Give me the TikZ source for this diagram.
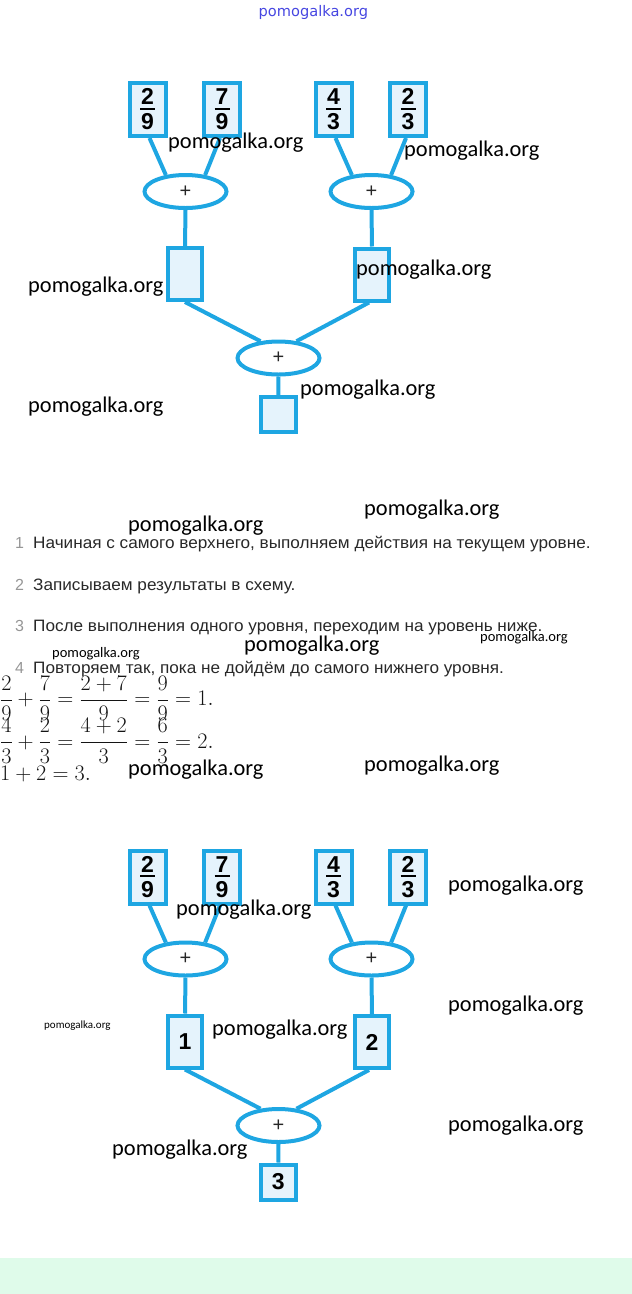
\RequirePackage{fix-cm}
\documentclass[tikz,border=0pt]{standalone}
\usepackage[no-math]{fontspec}
\usepackage{graphicx}
\setmainfont{Liberation Sans}
\newfontfamily\wmfont{Carlito}
\newfontfamily\wmtopfont{DejaVu Sans}
\usetikzlibrary{shapes.geometric}
\definecolor{ln}{RGB}{30,166,226}
\definecolor{bx}{RGB}{229,243,252}
\definecolor{mint}{RGB}{223,251,234}
\definecolor{txt}{RGB}{40,40,40}
\definecolor{num}{RGB}{150,150,150}
\definecolor{mathc}{RGB}{20,20,20}
\definecolor{wmblue}{RGB}{70,70,225}
\pgfdeclarelayer{bg}
\pgfsetlayers{bg,main}
\newcommand{\fracbox}[2]{\vbox{\hbox to 15pt{\hss#1\hss}\kern3pt\hrule height 2pt\kern4pt\hbox to 15pt{\hss#2\hss}}}
\tikzset{
  frbox/.style={draw=ln, line width=4pt, fill=bx, inner sep=0pt, minimum width=36pt, minimum height=53pt, font=\fontsize{23}{23}\selectfont\bfseries},
  resbox/.style={frbox, minimum width=34pt, minimum height=52pt},
  endbox/.style={frbox, minimum width=34.5pt, minimum height=35pt},
  opell/.style={ellipse, draw=ln, line width=4pt, fill=white, inner sep=0pt, minimum width=82pt, minimum height=33pt, font=\fontsize{20}{20}\selectfont, text=black!85},
  link/.style={draw=ln, line width=4pt},
  wmark/.style={font=\wmfont\fontsize{22.4}{22.4}\selectfont, text=black, inner sep=0pt, anchor=west},
  wmsmall/.style={wmark, font=\wmfont\fontsize{14.5}{14.5}\selectfont},
  wmtiny/.style={wmark, font=\wmfont\fontsize{11}{11}\selectfont},
  stepnum/.style={anchor=base, inner sep=0pt, text=num, font=\fontsize{16}{16}\selectfont},
  steptext/.style={anchor=base west, inner sep=0pt, text=txt, font=\fontsize{16.5}{16.5}\selectfont},
  mathline/.style={anchor=base west, inner sep=0pt, text=mathc, font=\fontsize{22.2}{26}\selectfont},
}
\begin{document}
\begin{tikzpicture}[x=1pt,y=-1pt]
\useasboundingbox (0,0) rectangle (632,1294);

% top watermark
\node[inner sep=0pt, anchor=west, text=wmblue, font=\wmtopfont\fontsize{14.6}{14.6}\selectfont] (wtop) at (258.5,12) {pomogalka.org};

% ---------- top diagram ----------
\node[frbox] (ta) at (147.5,109.5) {\fracbox{2}{9}};
\node[frbox] (tb) at (222,109.5) {\fracbox{7}{9}};
\node[frbox] (tc) at (333.5,109.5) {\fracbox{4}{3}};
\node[frbox] (td) at (408,109.5) {\fracbox{2}{3}};
\node[opell] (te) at (185.5,191.5) {+};
\node[opell] (tf) at (371.5,191.5) {+};
\node[resbox] (tg) at (185,274) {};
\node[resbox] (th) at (372,274.5) {};
\node[opell] (ti) at (278.5,358) {+};
\node[endbox] (tj) at (278.3,414.5) {};
\begin{pgfonlayer}{bg}
\fill[mint] (0,1258) rectangle (632,1294);
\draw[link] ([xshift=2pt]ta.south) -- (te.140);
\draw[link] ([xshift=-2pt]tb.south) -- (te.40);
\draw[link] ([xshift=2pt]tc.south) -- (tf.140);
\draw[link] ([xshift=-2pt]td.south) -- (tf.40);
\draw[link] (te.south) -- (tg.north);
\draw[link] (tf.south) -- (th.north);
\draw[link] (tg.south) -- (ti.137);
\draw[link] ([xshift=-3pt]th.south) -- (ti.43);
\draw[link] (ti.south) -- (tj.north);
\end{pgfonlayer}

% ---------- steps ----------
\node[stepnum] (n1) at (19.5,548.5) {1};
\node[steptext] (s1) at (33,548.5) {\scalebox{1.04}[1]{Начиная с самого верхнего, выполняем действия на текущем уровне.}};
\node[stepnum] (n2) at (19.5,590) {2};
\node[steptext] (s2) at (33,590) {\scalebox{1.04}[1]{Записываем результаты в схему.}};
\node[stepnum] (n3) at (19.5,631.5) {3};
\node[steptext] (s3) at (33,631.5) {\scalebox{1.04}[1]{После выполнения одного уровня, переходим на уровень ниже.}};
\node[stepnum] (n4) at (19.5,673) {4};
\node[steptext] (s4) at (33,673) {\scalebox{1.04}[1]{Повторяем так, пока не дойдём до самого нижнего уровня.}};

% ---------- math ----------
\node[mathline] (q1) at (0,705.5) {$\displaystyle \frac{2}{9}+\frac{7}{9}=\frac{2+7}{9}=\frac{9}{9}=1.$};
\node[mathline] (q2) at (0,748) {$\displaystyle \frac{4}{3}+\frac{2}{3}=\frac{4+2}{3}=\frac{6}{3}=2.$};
\node[mathline] (q3) at (0,780) {$1+2=3.$};

% ---------- bottom diagram ----------
\begin{scope}[yshift=-767.5pt]
\node[frbox] (ua) at (147.5,109.5) {\fracbox{2}{9}};
\node[frbox] (ub) at (222,109.5) {\fracbox{7}{9}};
\node[frbox] (uc) at (333.5,109.5) {\fracbox{4}{3}};
\node[frbox] (ud) at (408,109.5) {\fracbox{2}{3}};
\node[opell] (ue) at (185.5,191.5) {+};
\node[opell] (uf) at (371.5,191.5) {+};
\node[resbox] (ug) at (185,274) {1};
\node[resbox] (uh) at (372,274.5) {2};
\node[opell] (ui) at (278.5,358) {+};
\node[endbox] (uj) at (278.3,414.5) {3};
\begin{pgfonlayer}{bg}
\draw[link] ([xshift=2pt]ua.south) -- (ue.140);
\draw[link] ([xshift=-2pt]ub.south) -- (ue.40);
\draw[link] ([xshift=2pt]uc.south) -- (uf.140);
\draw[link] ([xshift=-2pt]ud.south) -- (uf.40);
\draw[link] (ue.south) -- (ug.north);
\draw[link] (uf.south) -- (uh.north);
\draw[link] (ug.south) -- (ui.137);
\draw[link] ([xshift=-3pt]uh.south) -- (ui.43);
\draw[link] (ui.south) -- (uj.north);
\end{pgfonlayer}
\end{scope}

% ---------- watermarks ----------
\node[wmark] (w1) at (168,143) {pomogalka.org};
\node[wmark] (w2) at (404,151) {pomogalka.org};
\node[wmark] (w3) at (28,287) {pomogalka.org};
\node[wmark] (w4) at (356,270) {pomogalka.org};
\node[wmark] (w5) at (28,407) {pomogalka.org};
\node[wmark] (w6) at (300,390) {pomogalka.org};
\node[wmark] (w7) at (128,526) {pomogalka.org};
\node[wmark] (w8) at (364,510) {pomogalka.org};
\node[wmsmall] (w9) at (52,654) {pomogalka.org};
\node[wmark] (w10) at (244,646) {pomogalka.org};
\node[wmsmall] (w11) at (480,638) {pomogalka.org};
\node[wmark] (w12) at (128,770) {pomogalka.org};
\node[wmark] (w13) at (364,766) {pomogalka.org};
\node[wmark] (w14) at (448,886) {pomogalka.org};
\node[wmark] (w15) at (176,910) {pomogalka.org};
\node[wmtiny] (w16) at (44,1026) {pomogalka.org};
\node[wmark] (w17) at (212,1030) {pomogalka.org};
\node[wmark] (w18) at (448,1006) {pomogalka.org};
\node[wmark] (w19) at (448,1126) {pomogalka.org};
\node[wmark] (w20) at (112,1150) {pomogalka.org};
\end{tikzpicture}
\end{document}
